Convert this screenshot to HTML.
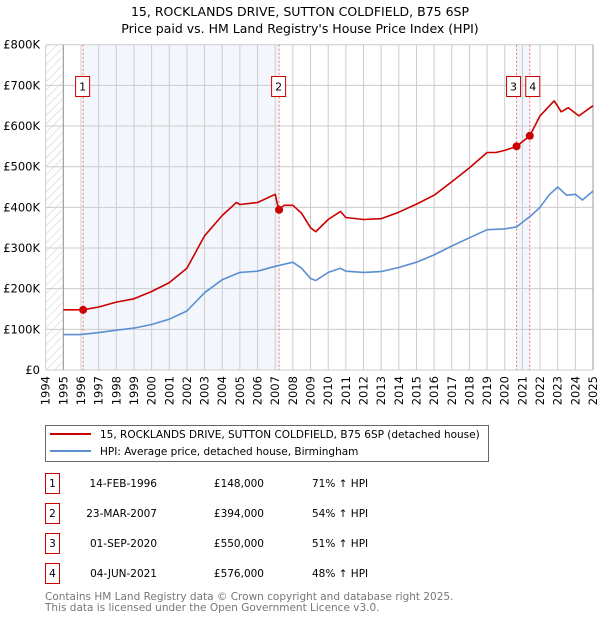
<!DOCTYPE html>
<html><head><meta charset="utf-8"><style>
body{margin:0;background:#fff;font-family:"DejaVu Sans","Liberation Sans",sans-serif;}
svg text{font-family:"DejaVu Sans","Liberation Sans",sans-serif;}
</style></head><body>
<svg width="600" height="620" xmlns="http://www.w3.org/2000/svg">
<defs><pattern id="hatch" width="6" height="6" patternUnits="userSpaceOnUse" patternTransform="rotate(45)"><line x1="0" y1="0" x2="0" y2="6" stroke="#ccc" stroke-width="1"/></pattern></defs>
<text x="300" y="16" text-anchor="middle" font-size="12.5">15, ROCKLANDS DRIVE, SUTTON COLDFIELD, B75 6SP</text>
<text x="300" y="33" text-anchor="middle" font-size="12.5">Price paid vs. HM Land Registry's House Price Index (HPI)</text>
<g id="plot"></g>
<g>
<rect x="45.5" y="425.5" width="443" height="36" fill="#fff" stroke="#666"/>
<line x1="50" y1="434" x2="91" y2="434" stroke="#cc0000" stroke-width="2"/>
<text x="100" y="438" font-size="10.5">15, ROCKLANDS DRIVE, SUTTON COLDFIELD, B75 6SP (detached house)</text>
<line x1="50" y1="451" x2="91" y2="451" stroke="#5b8fd0" stroke-width="2"/>
<text x="100" y="455" font-size="10.5">HPI: Average price, detached house, Birmingham</text>
</g>
<g id="table" font-size="10.5"></g>
<text x="45" y="600" font-size="10.5" fill="#777">Contains HM Land Registry data © Crown copyright and database right 2025.</text>
<text x="45" y="611" font-size="10.5" fill="#777">This data is licensed under the Open Government Licence v3.0.</text>
</svg>
<script>
const hpiYears=[1995,1996,1997,1998,1999,2000,2001,2002,2003,2004,2005,2006,2007,2007.5,2008,2008.5,2009,2009.3,2010,2010.7,2011,2012,2013,2014,2015,2016,2017,2018,2019,2020,2020.67,2021,2021.5,2022,2022.5,2023,2023.5,2024,2024.4,2025];
const hpiValues=[87,87,92,98,103,112,125,145,190,222,240,243,255,260,265,250,225,220,240,250,243,240,242,252,265,283,305,325,345,347,352,363,380,400,430,450,430,432,418,440];
const propYears=[1995,1996.12,1997,1998,1999,2000,2001,2002,2003,2004,2004.8,2005,2006,2007,2007.2,2007.5,2008,2008.5,2009,2009.3,2010,2010.7,2011,2012,2013,2014,2015,2016,2017,2018,2019,2019.5,2020,2020.67,2021.42,2022,2022.8,2023.2,2023.6,2024.2,2025];
const propValues=[148,148,155,167,175,193,215,250,330,380,412,407,412,432,394,405,405,385,350,340,370,390,375,370,372,388,408,430,463,497,535,535,540,550,576,625,662,635,645,625,650];
const saleLabels=["1","2","3","4"];
const saleYears=[1996.12,2007.22,2020.67,2021.42];
const saleValues=[148,394,550,576];
const saleDates=["14-FEB-1996","23-MAR-2007","01-SEP-2020","04-JUN-2021"];
const salePrices=["£148,000","£394,000","£550,000","£576,000"];
const salePcts=["71% ↑ HPI","54% ↑ HPI","51% ↑ HPI","48% ↑ HPI"];
const yTicks=[0,100,200,300,400,500,600,700,800];
const yTickLabels=["£0","£100K","£200K","£300K","£400K","£500K","£600K","£700K","£800K"];
const xTicks=[1994,1995,1996,1997,1998,1999,2000,2001,2002,2003,2004,2005,2006,2007,2008,2009,2010,2011,2012,2013,2014,2015,2016,2017,2018,2019,2020,2021,2022,2023,2024,2025];
const X0=45.7,X1=593,Y0=370,Y1=44.7;
const xs=v=>X0+(v-1994)/31*(X1-X0);
const ys=v=>Y0-v/800*(Y0-Y1);
const NS="http://www.w3.org/2000/svg";
const plot=document.getElementById('plot');
function mk(tag,attrs,parent){const e=document.createElementNS(NS,tag);for(const k in attrs)e.setAttribute(k,attrs[k]);(parent||plot).appendChild(e);return e;}
let r;
r=mk('rect',{x:xs(1994),y:Y1,width:xs(1995)-xs(1994),height:Y0-Y1,fill:'url(#hatch)'});


r=mk('rect',{x:xs(saleYears[0]),y:Y1,width:xs(saleYears[1])-xs(saleYears[0]),height:Y0-Y1,fill:'#eef3fc',opacity:0.7});


r=mk('rect',{x:xs(saleYears[2]),y:Y1,width:xs(saleYears[3])-xs(saleYears[2]),height:Y0-Y1,fill:'#eef3fc',opacity:0.7});


xTicks.forEach(t=>{const l=mk('line',{x1:xs(t),x2:xs(t),y1:Y1,y2:Y0,stroke:'#ccc'});


const tx=mk('text',{x:0,y:0,'font-size':11.5,'text-anchor':'end',transform:`translate(${xs(t)+4},${Y0+6}) rotate(-90)`});tx.textContent=t;

});
yTicks.forEach((t,i)=>{const l=mk('line',{x1:X0,x2:X1,y1:ys(t),y2:ys(t),stroke:'#ccc'});


const tx=mk('text',{x:40,y:ys(t)+4,'font-size':11.5,'text-anchor':'end'});tx.textContent=yTickLabels[i];

});
r=mk('line',{x1:xs(1995),x2:xs(1995),y1:Y1,y2:Y0,stroke:'#999'});


r=mk('line',{x1:X1,x2:X1,y1:Y1,y2:Y0,stroke:'#999'});


saleYears.forEach((y,i)=>{const l=mk('line',{x1:xs(y),x2:xs(y),y1:Y1,y2:Y0,stroke:'#f07070','stroke-dasharray':'2,2'});

});
function path(xa,va,color,name){const d=xa.map((x,i)=>(i?'L':'M')+xs(x).toFixed(1)+','+ys(va[i]).toFixed(1)).join('');
const p=mk('path',{d:d,fill:'none',stroke:color,'stroke-width':1.6,'stroke-linejoin':'round'});

}
path(hpiYears,hpiValues,'#5b8fd0','hpi-line');
path(propYears,propValues,'#cc0000','property-line');
const boxX=[xs(saleYears[0])-7.5,xs(saleYears[1])-7.5,xs(saleYears[2])-10,xs(saleYears[3])-4];
saleYears.forEach((y,i)=>{const c=mk('circle',{cx:xs(y),cy:ys(saleValues[i]),r:4,fill:'#cc0000'});


const b=mk('rect',{x:boxX[i],y:76.5,width:14,height:20,fill:'#fff',stroke:'#cc0000'});


const t=mk('text',{x:boxX[i]+7,y:90.5,'font-size':11,'text-anchor':'middle'});t.textContent=saleLabels[i];

});
const tb=document.getElementById('table');
saleLabels.forEach((s,i)=>{const cy=483+i*30;
const b=mk('rect',{x:45.5,y:cy-9.5,width:14,height:20,fill:'#fff',stroke:'#cc0000'},tb);


let t=mk('text',{x:52.5,y:cy+4,'text-anchor':'middle'},tb);t.textContent=s;


t=mk('text',{x:157,y:cy+4,'text-anchor':'end'},tb);t.textContent=saleDates[i];


t=mk('text',{x:264,y:cy+4,'text-anchor':'end'},tb);t.textContent=salePrices[i];


t=mk('text',{x:312,y:cy+4},tb);t.textContent=salePcts[i];

});
</script>
</body></html>
